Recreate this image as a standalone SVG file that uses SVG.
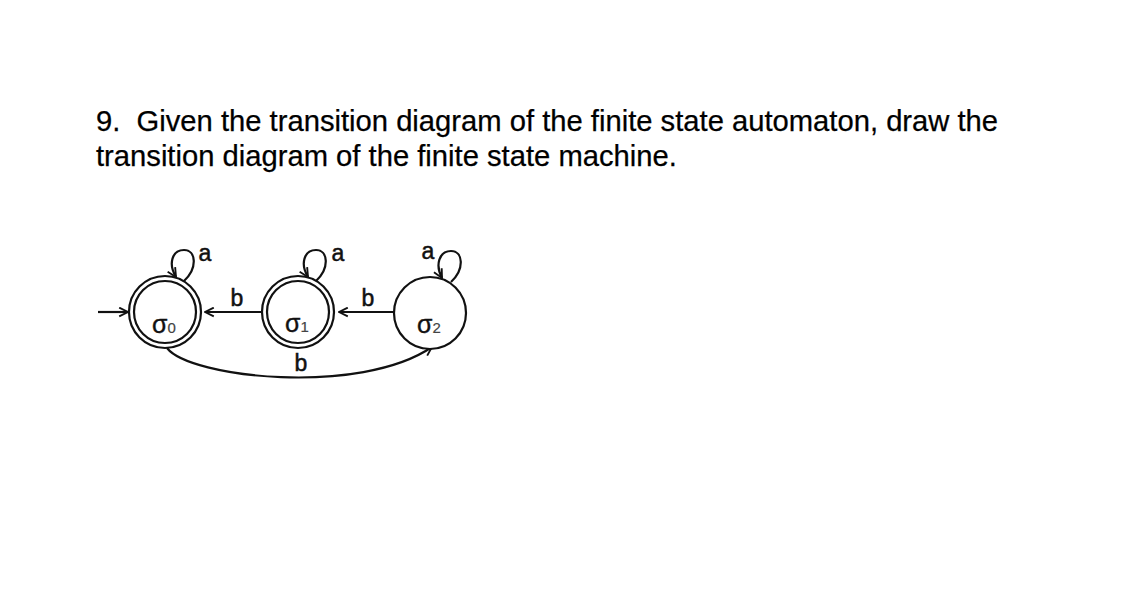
<svg xmlns="http://www.w3.org/2000/svg" width="1148" height="596" viewBox="0 0 1148 596">
<style>
.title{font-family:"Liberation Sans",Arial,sans-serif;font-size:29.2px;fill:#000;stroke:#000;stroke-width:0.25}
.st{fill:#fff;stroke:#111;stroke-width:2.2}
.lbl{font-family:"Liberation Sans",Arial,sans-serif;font-size:23px;fill:#111;stroke:#111;stroke-width:0.5;text-anchor:middle}
.sname{font-family:"Liberation Sans",Arial,sans-serif;font-size:25px;fill:#111;stroke:#111;stroke-width:0.4}
.sub{font-size:15px;fill:#444;stroke:#444;stroke-width:0.2}
.edge{fill:none;stroke:#111;stroke-width:2.2;marker-end:url(#arr)}
</style>
<defs>
<marker id="arr" viewBox="0 0 10 10" refX="9" refY="5" markerWidth="11" markerHeight="11" orient="auto" markerUnits="userSpaceOnUse">
<path d="M1 1 L9 5 L1 9" fill="none" stroke="#111" stroke-width="1.7"/>
</marker>
</defs>
<rect width="1148" height="596" fill="#fff"/>
<g id="question">
<text class="title" x="96" y="131" xml:space="preserve">9.  Given the transition diagram of the finite state automaton, draw the</text>
<text class="title" x="96" y="166">transition diagram of the finite state machine.</text>
</g>
<g id="connectors">
<line class="edge" x1="98" y1="312" x2="128" y2="312"/>
<line class="edge" x1="262" y1="312" x2="205" y2="312"/>
<line class="edge" x1="394" y1="312" x2="339" y2="312"/>
<path class="edge" d="M167 348 C190 378, 360 396, 432 347"/>
<path class="edge" d="M184 281 C198 268, 196 250, 184 250 C172 250, 168 264, 176 277"/>
<path class="edge" d="M316 281 C330 268, 328 250, 316 250 C304 250, 300 264, 308 277"/>
<path class="edge" d="M451 282 C465 269, 463 251, 451 251 C439 251, 435 265, 442 278"/>
<text class="lbl" x="205" y="261">a</text>
<text class="lbl" x="338" y="261">a</text>
<text class="lbl" x="428" y="259">a</text>
<text class="lbl" x="237" y="306">b</text>
<text class="lbl" x="368" y="306">b</text>
<text class="lbl" x="301" y="371">b</text>
</g>
<g id="s0">
<circle class="st" cx="165" cy="312" r="36"/>
<circle class="st" cx="165" cy="312" r="31"/>
<text class="sname" x="152" y="333">σ<tspan class="sub">0</tspan></text>
</g>
<g id="s1">
<circle class="st" cx="298" cy="312" r="36"/>
<circle class="st" cx="298" cy="312" r="31"/>
<text class="sname" x="285" y="332">σ<tspan class="sub">1</tspan></text>
</g>
<g id="s2">
<circle class="st" cx="430" cy="313" r="36"/>
<text class="sname" x="417" y="333">σ<tspan class="sub">2</tspan></text>
</g>
</svg>
